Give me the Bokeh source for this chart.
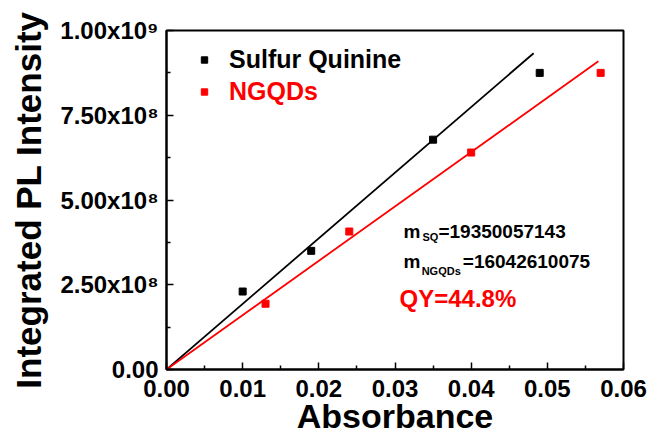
from bokeh.plotting import figure
from bokeh.models import (Range1d, FixedTicker, NumeralTickFormatter, Legend,
                          LegendItem, Label)
from bokeh.embed import file_html
from bokeh.resources import INLINE

# ---- data ----
abs_sq = [0.010, 0.019, 0.035, 0.049]
pl_sq = [2.30e8, 3.50e8, 6.78e8, 8.75e8]
abs_ng = [0.013, 0.024, 0.040, 0.057]
pl_ng = [1.94e8, 4.07e8, 6.40e8, 8.75e8]

fit_sq_x = [0.0, 0.0482]
fit_sq_y = [0.0, 9.33e8]
fit_ng_x = [0.0, 0.0567]
fit_ng_y = [0.0, 9.09e8]

x_ticks = [0.0, 0.01, 0.02, 0.03, 0.04, 0.05, 0.06]
x_minor = [0.005, 0.015, 0.025, 0.035, 0.045, 0.055]
y_ticks = [0, 250000000, 500000000, 750000000, 1000000000]
y_minor = [125000000, 375000000, 625000000, 875000000]
y_tick_labels = ["0.00", "2.50x10\u2078", "5.00x10\u2078", "7.50x10\u2078", "1.00x10\u2079"]

series_names = ["Sulfur Quinine", "NGQDs"]
slope_sq = "19350057143"
slope_ng = "16042610075"
qy_text = "QY=44.8%"

FONT = "Liberation Sans"
RED = "#ff0000"

p = figure(width=651, height=437, output_backend="svg", toolbar_location=None,
           x_range=Range1d(0, 0.06), y_range=Range1d(0, 1e9),
           min_border_left=166, min_border_right=28, min_border_top=30,
           min_border_bottom=68, background_fill_color="white",
           border_fill_color="white")
p.grid.visible = False
p.outline_line_color = "black"
p.outline_line_width = 2

for ax in (p.xaxis[0], p.yaxis[0]):
    ax.axis_line_width = 2
    ax.major_tick_in = 7
    ax.major_tick_out = 0
    ax.minor_tick_in = 4
    ax.minor_tick_out = 0
    ax.major_tick_line_width = 1.5
    ax.minor_tick_line_width = 1.5
    ax.major_label_text_font = FONT
    ax.major_label_text_font_style = "bold"
    ax.major_label_text_font_size = "24px"
    ax.major_label_text_color = "black"
    ax.axis_label_text_font = FONT
    ax.axis_label_text_font_style = "bold"
    ax.axis_label_text_color = "black"

p.xaxis.ticker = FixedTicker(ticks=x_ticks, minor_ticks=x_minor)
p.xaxis.formatter = NumeralTickFormatter(format="0.00")
p.xaxis.major_label_standoff = 10
p.xaxis.axis_label = "Absorbance"
p.xaxis.axis_label_text_font_size = "34px"
p.xaxis.axis_label_standoff = -3

p.yaxis.ticker = FixedTicker(ticks=y_ticks, minor_ticks=y_minor)
p.yaxis.major_label_overrides = {t: lab for t, lab in zip(y_ticks, y_tick_labels)}
p.yaxis.major_label_standoff = 8
p.yaxis.axis_label = "Integrated PL Intensity"
p.yaxis.axis_label_text_font_size = "35px"
p.yaxis.axis_label_standoff = 9

p.line(fit_sq_x, fit_sq_y, line_color="black", line_width=1.8)
p.line(fit_ng_x, fit_ng_y, line_color=RED, line_width=1.8)
r_sq = p.scatter(abs_sq, pl_sq, marker="square", size=7, color="black")
r_ng = p.scatter(abs_ng, pl_ng, marker="square", size=7, color=RED)

def make_legend(name, rend, color, loc):
    lg = Legend(items=[LegendItem(label=name, renderers=[rend])], location=loc,
                padding=0, margin=0, spacing=0, border_line_color=None,
                background_fill_alpha=0, glyph_width=16, glyph_height=37,
                label_height=29, label_standoff=17, label_text_font=FONT,
                label_text_font_style="bold", label_text_font_size="25px",
                label_text_color=color)
    p.add_layout(lg)

make_legend(series_names[0], r_sq, "black", (30, 291))
make_legend(series_names[1], r_ng, RED, (30, 259))

def lab(x, y, t, size, color="black"):
    p.add_layout(Label(x=x, y=y, text=t, text_font=FONT, text_font_style="bold",
                       text_font_size=size, text_color=color,
                       text_baseline="alphabetic", text_align="left"))

lab(0.0311, 4.08e8, "m", "19px")
lab(0.0336, 3.90e8, "SQ", "11px")
lab(0.0357, 4.08e8, "=" + slope_sq, "19px")
lab(0.0311, 3.20e8, "m", "19px")
lab(0.0335, 2.92e8, "NGQDs", "11px")
lab(0.0389, 3.20e8, "=" + slope_ng, "19px")
lab(0.0306, 2.10e8, qy_text, "24px", RED)

open("out.html", "w").write(file_html(p, INLINE))
